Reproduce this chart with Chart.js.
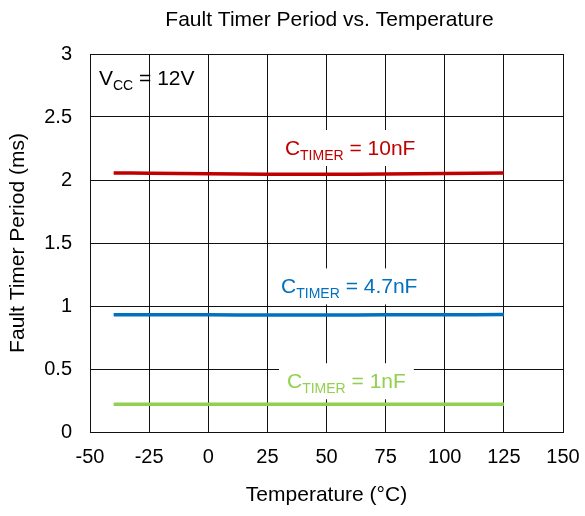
<!DOCTYPE html>
<html lang="en">
<head>
<meta charset="UTF-8">
<title>Fault Timer Period vs. Temperature</title>
<script src="https://cdn.jsdelivr.net/npm/chart.js"></script>
<style>
    body { margin: 0; background: #fff; }
    #wrap { width: 585px; height: 516px; }
</style>
</head>
<body>
<div id="wrap"><canvas id="myChart" width="585" height="516"></canvas></div>
<script>
    // data
    const temps = [-40, -25, 0, 25, 50, 75, 100, 125];
    const period10nF = [2.056, 2.054, 2.050, 2.046, 2.045, 2.047, 2.051, 2.055];
    const period4p7nF = [0.931, 0.931, 0.930, 0.929, 0.929, 0.930, 0.931, 0.932];
    const period1nF = [0.220, 0.220, 0.220, 0.220, 0.220, 0.220, 0.220, 0.221];

    const xTickValues = [-50, -25, 0, 25, 50, 75, 100, 125, 150];
    const yTickValues = [0, 0.5, 1, 1.5, 2, 2.5, 3];

    const FONT = "'Liberation Sans', Arial, sans-serif";
    const RED = '#C00000', BLUE = '#0070C0', GREEN = '#92D050';

    // annotation text, anchored at left/baseline in data units
    const curveLabels = [
        { x: -46.2, y: 2.754, main: 'V', sub: 'CC', rest: ' = 12V', color: '#000', box: false },
        { x: 32.4, y: 2.198, main: 'C', sub: 'TIMER', rest: ' = 10nF', color: RED, box: true },
        { x: 30.8, y: 1.100, main: 'C', sub: 'TIMER', rest: ' = 4.7nF', color: BLUE, box: true },
        { x: 33.3, y: 0.347, main: 'C', sub: 'TIMER', rest: ' = 1nF', color: GREEN, box: true }
    ];

    const toPoints = vals => temps.map((t, i) => ({ x: t, y: vals[i] }));

    const labelPlugin = {
        id: 'labels',
        beforeDatasetsDraw(chart) {
            const { ctx, chartArea, scales: { x, y } } = chart;
            ctx.save();
            ctx.textBaseline = 'alphabetic';
            ctx.textAlign = 'left';
            curveLabels.forEach(l => {
                const px = x.getPixelForValue(l.x);
                const py = y.getPixelForValue(l.y);
                ctx.font = '21px ' + FONT;
                const w1 = ctx.measureText(l.main).width;
                const w3 = ctx.measureText(l.rest).width;
                ctx.font = '14px ' + FONT;
                const w2 = ctx.measureText(l.sub).width;
                if (l.box) {
                    ctx.fillStyle = '#fff';
                    ctx.fillRect(px - 8, py - 25, w1 + w2 + w3 + 16, 36);
                }
                ctx.fillStyle = l.color;
                ctx.font = '21px ' + FONT;
                ctx.fillText(l.main, px, py);
                ctx.fillText(l.rest, px + w1 + w2, py);
                ctx.font = '14px ' + FONT;
                ctx.fillText(l.sub, px + w1, py + 5);
            });
            // chart title
            ctx.fillStyle = '#000';
            ctx.font = '21px ' + FONT;
            ctx.textAlign = 'center';
            ctx.fillText('Fault Timer Period vs. Temperature', (chartArea.left + chartArea.right) / 2 + 3, 26);
            ctx.restore();
        }
    };

    const lineSet = (label, vals, color) => ({
        label: label,
        data: toPoints(vals),
        borderColor: color,
        backgroundColor: color,
        borderWidth: 3.5,
        pointRadius: 0,
        tension: 0.3,
        fill: false
    });

    const config = {
        type: 'line',
        data: {
            datasets: [
                lineSet('CTIMER = 10nF', period10nF, RED),
                lineSet('CTIMER = 4.7nF', period4p7nF, BLUE),
                lineSet('CTIMER = 1nF', period1nF, GREEN)
            ]
        },
        options: {
            responsive: false,
            animation: false,
            devicePixelRatio: 1,
            layout: { padding: { left: 0, right: 22, top: 54, bottom: 0 } },
            plugins: {
                legend: { display: false },
                title: { display: false },
                tooltip: { enabled: false }
            },
            scales: {
                x: {
                    type: 'linear',
                    min: -50,
                    max: 150,
                    afterBuildTicks: s => { s.ticks = xTickValues.map(v => ({ value: v })); },
                    afterFit: s => { s.height = 84; s.paddingLeft = 0; s.paddingRight = 0; },
                    grid: { color: '#111', lineWidth: 1, drawTicks: false },
                    border: { color: '#111' },
                    ticks: { color: '#000', font: { family: FONT, size: 20 }, padding: 13, maxRotation: 0 },
                    title: {
                        display: true,
                        text: 'Temperature (°C)',
                        color: '#000',
                        font: { family: FONT, size: 21 },
                        padding: { top: 0, bottom: 8 }
                    }
                },
                y: {
                    min: 0,
                    max: 3,
                    afterBuildTicks: s => { s.ticks = yTickValues.map(v => ({ value: v })); },
                    afterFit: s => { s.width = 90; },
                    grid: { color: '#111', lineWidth: 1, drawTicks: false },
                    border: { color: '#111' },
                    ticks: {
                        color: '#000',
                        font: { family: FONT, size: 20 },
                        padding: 18,
                        callback: v => String(v)
                    },
                    title: {
                        display: true,
                        text: 'Fault Timer Period (ms)',
                        color: '#000',
                        font: { family: FONT, size: 21 },
                        padding: { top: 6, bottom: 0 }
                    }
                }
            }
        },
        plugins: [labelPlugin]
    };

    const ctx = document.getElementById('myChart').getContext('2d');
    const myChart = new Chart(ctx, config);
</script>
</body>
</html>
